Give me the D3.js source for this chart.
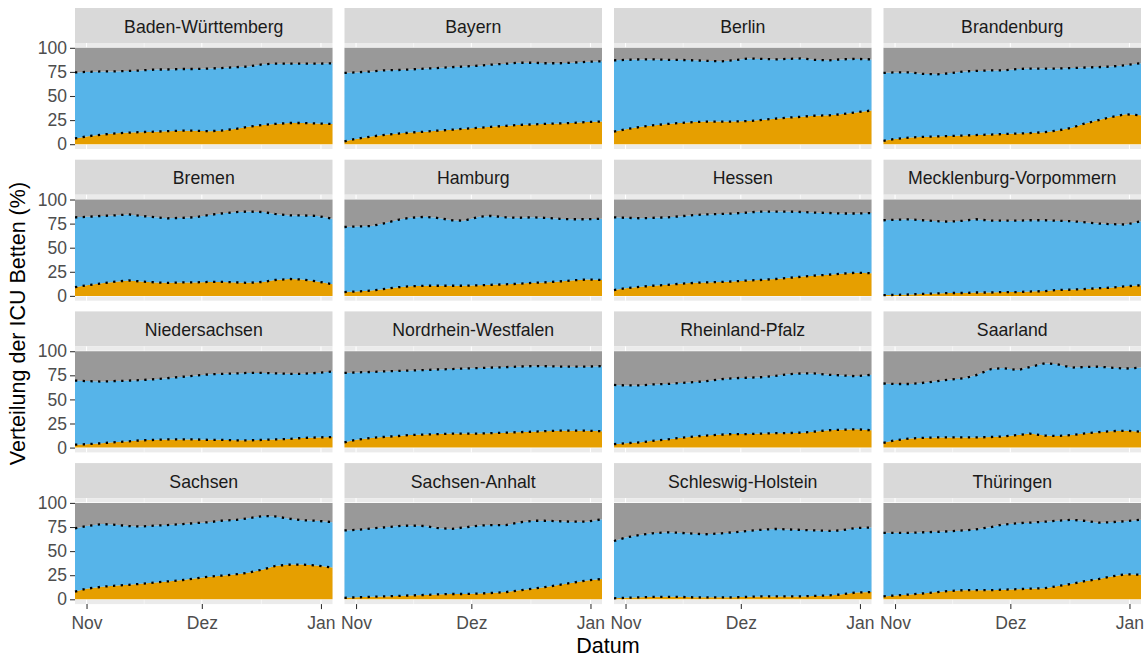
<!DOCTYPE html>
<html>
<head>
<meta charset="utf-8">
<script src="https://cdn.jsdelivr.net/npm/d3@7"></script>
<style>
  body { margin: 0; background: #ffffff; }
  svg { display: block; }
  text { font-family: "Liberation Sans", Arial, Helvetica, sans-serif; }
</style>
</head>
<body>
<svg id="chart" width="1145" height="657"></svg>
<script>
// Bundesländer, one facet each
const states = [
  "Baden-Württemberg", "Bayern", "Berlin", "Brandenburg",
  "Bremen", "Hamburg", "Hessen", "Mecklenburg-Vorpommern",
  "Niedersachsen", "Nordrhein-Westfalen", "Rheinland-Pfalz", "Saarland",
  "Sachsen", "Sachsen-Anhalt", "Schleswig-Holstein", "Thüringen"
];

// Reporting dates
const dates = [
  "2020-10-29", "2020-11-01", "2020-11-05", "2020-11-08", "2020-11-12",
  "2020-11-15", "2020-11-19", "2020-11-22", "2020-11-26", "2020-11-29",
  "2020-12-03", "2020-12-06", "2020-12-10", "2020-12-13", "2020-12-17",
  "2020-12-20", "2020-12-24", "2020-12-27", "2020-12-31", "2021-01-04"
];

// Share of ICU beds with COVID-19 patients (%), per state
const covidShare = [
  [6, 8, 10, 11, 12, 12.5, 13, 13.5, 14, 14, 13.5, 14, 16, 18, 20, 21, 22, 22, 21.5, 21],
  [3, 5.5, 8, 9.5, 11, 12, 13, 14, 15, 16, 17, 18, 19, 20, 20.5, 21, 21.5, 22, 23, 23.5],
  [13, 15.5, 18, 19.5, 21, 22, 23, 23.5, 23.5, 23.5, 24, 25, 26.5, 27.5, 28.5, 29.5, 30, 31, 33, 35],
  [3.5, 5.5, 7, 7.5, 8, 8.5, 9, 9.5, 10, 10.5, 11, 11.5, 12.5, 14, 17, 21, 25, 28, 31, 30],
  [9, 11, 13, 14.5, 16, 15, 14, 13.5, 14, 14, 14.5, 14.5, 14, 13.5, 14.5, 16.5, 17.5, 17, 15, 12],
  [4, 4.5, 5.5, 7, 9, 10, 10.5, 10.5, 10.5, 10.5, 11, 11.5, 12, 12.5, 13.5, 14, 15, 16, 17, 16.5],
  [6, 8, 9.5, 10.5, 11.5, 12.5, 13.5, 14, 14.5, 15, 16, 16.5, 17.5, 18.5, 20, 21, 22, 23, 24, 23.5],
  [0.8, 1, 1.5, 2, 2.5, 3, 3, 3.5, 3.5, 4, 4, 4.5, 5, 6, 6.5, 7, 8, 8.5, 10, 11],
  [3, 3.5, 4.5, 5.5, 6.5, 7.5, 8, 8.5, 8.5, 8.5, 8, 8, 7.5, 7.5, 8, 8.5, 9, 10, 10.5, 11],
  [5.5, 8, 10, 11, 12, 13, 13.5, 14, 14.5, 14.5, 14.5, 15, 15.5, 16, 16.5, 17, 17.5, 17.5, 17.5, 17],
  [3.5, 4.5, 5.5, 7, 8.5, 10, 11.5, 12.5, 13.5, 14, 14, 14.5, 15, 15, 15.5, 16.5, 18, 18.5, 19, 18],
  [5, 7.5, 9.5, 10, 10.5, 10.5, 10.5, 10.5, 11, 11.5, 13, 14.5, 12.5, 12, 13, 14.5, 16, 17, 17.5, 16.5],
  [8, 11, 13, 14, 15, 16, 17.5, 18.5, 20, 21.5, 23.5, 24.5, 26, 27.5, 31, 34.5, 36, 36, 35, 33],
  [1.5, 2, 2.5, 3, 3.5, 4, 4.5, 5, 5.5, 5.5, 6, 6.5, 7.5, 9, 11, 12.5, 15, 17, 19.5, 21],
  [1, 1.5, 2, 2.5, 2.5, 2.5, 2, 2, 2, 2, 2.5, 3, 3, 3, 3, 3.5, 4, 5, 7, 7.5],
  [3, 4, 5, 6, 7.5, 8.5, 9.5, 9.5, 9.5, 10, 10.5, 11, 11.5, 13.5, 16, 18.5, 21, 23.5, 26, 25.5]
];

// Share of ICU beds occupied in total (%), per state
const occupiedShare = [
  [74.5, 75, 75.5, 75.5, 76, 76.5, 77.5, 77.5, 78, 78, 78.5, 79, 80, 80.5, 83, 83.5, 83.5, 83.5, 83.5, 84],
  [74, 74.5, 75.5, 76.5, 77, 77.5, 78.5, 79, 80, 80.5, 81.5, 82.5, 83.5, 84.5, 84.5, 84, 84, 84.5, 85.5, 86],
  [87, 87.5, 88, 88, 87.5, 87.5, 87, 86.5, 86, 87, 89, 88.5, 88, 88.5, 89, 87.5, 87, 88, 88.5, 88],
  [74, 74.5, 74.5, 73, 72.5, 73.5, 75.5, 76, 76.5, 76.5, 78, 78.5, 78.5, 78.5, 79, 79.5, 80, 80.5, 82, 84],
  [81.5, 82, 83, 83.5, 84.5, 83, 81.5, 80.5, 81, 81.5, 84, 85.5, 87, 87.5, 87, 85, 83.5, 83.5, 83, 80],
  [71.5, 72, 72.5, 75, 79, 81, 82, 81, 78.5, 78, 82, 83, 81.5, 81, 81.5, 81, 80, 79.5, 79.5, 80],
  [81.5, 81, 80.5, 81, 81.5, 82.5, 84, 84.5, 85, 85.5, 86.5, 87.5, 87.5, 87.5, 87, 86.5, 86, 85.5, 85.5, 86],
  [78.5, 79, 79.5, 78.5, 77.5, 77, 78, 79.5, 78, 78, 78, 78.5, 78.5, 78, 77.5, 76.5, 75, 74.5, 74, 77.5],
  [69.5, 69, 68.5, 69, 69.5, 70, 71, 72, 73.5, 74.5, 76, 76.5, 77, 77.5, 77.5, 77, 76.5, 76.5, 77.5, 79],
  [77.5, 78, 78.5, 79, 79.5, 80, 80.5, 81, 81.5, 82, 82.5, 83, 83.5, 84, 84.5, 84.5, 84, 84, 84, 84.5],
  [65, 64.5, 64.5, 65.5, 66, 67, 68, 69, 71, 72, 72.5, 73, 74.5, 76, 77, 77, 75.5, 75, 74, 75.5],
  [66.5, 66, 66, 67, 69, 70.5, 72, 75, 81.5, 82.5, 80.5, 83.5, 87.5, 86.5, 83, 83.5, 84, 83, 82, 83],
  [73.5, 76, 78, 77.5, 76, 75.5, 76.5, 77, 78, 79, 80, 81.5, 82.5, 84, 86.5, 86, 83.5, 82, 81.5, 80],
  [71.5, 72, 73.5, 74.5, 76, 76.5, 76, 74, 73, 74.5, 76.5, 77, 77, 79.5, 81.5, 81.5, 81, 80.5, 80.5, 83],
  [60.5, 64, 67, 68.5, 69.5, 69, 68, 67.5, 68.5, 69.5, 71, 72, 73, 72.5, 72, 71.5, 71, 71.5, 74, 74.5],
  [69, 69, 69, 69.5, 70, 70.5, 71.5, 72.5, 75, 77.5, 79, 79.5, 80.5, 81.5, 82.5, 81.5, 79.5, 80, 81, 82.5]
];

// Axis ticks
const dateRange = ["2020-10-29", "2021-01-04"];
const xTickDates = ["2020-11-01", "2020-12-01", "2021-01-01"];
const xTickLabels = ["Nov", "Dez", "Jan"];
const xMinorDates = ["2020-11-16", "2020-12-16T12:00Z"];
const yTicks = [0, 25, 50, 75, 100];
const yMinorTicks = [12.5, 37.5, 62.5, 87.5];

// Stack layers, bottom to top
const layerKeys = ["covid", "sonstige", "frei"];
const layerColors = { covid: "#E69F00", sonstige: "#56B4E9", frei: "#999999" };

// Facet grid geometry
const nCols = 4;
const panelLeft0 = 75, panelW = 257.5, colStep = 269.5;
const stripTop0 = 8, stripH = 35, panelH = 106, rowStep = 151.7;
const nRows = Math.ceil(states.length / nCols);

const parse = s => new Date(s);
const svg = d3.select("#chart");

const x = d3.scaleUtc().domain(dateRange.map(parse)).range([0, panelW]);
const y = d3.scaleLinear().domain([-5, 105]).range([panelH, 0]);

const stack = d3.stack().keys(layerKeys);
const area = d3.area()
  .x(d => x(d.data.date))
  .y0(d => y(d[0]))
  .y1(d => y(d[1]));
const line = d3.line().x(d => x(d.date)).y(d => y(d.v));

states.forEach((state, i) => {
  const col = i % nCols, row = Math.floor(i / nCols);
  const g = svg.append("g")
    .attr("transform", `translate(${panelLeft0 + col * colStep},${stripTop0 + row * rowStep})`);

  // facet strip
  g.append("rect").attr("width", panelW).attr("height", stripH).attr("fill", "#D9D9D9");
  g.append("text")
    .attr("x", panelW / 2).attr("y", 24.8)
    .attr("text-anchor", "middle")
    .attr("font-size", 17.7).attr("fill", "#1A1A1A")
    .text(state);

  const p = g.append("g").attr("transform", `translate(0,${stripH})`);
  p.append("rect").attr("width", panelW).attr("height", panelH).attr("fill", "#EBEBEB");

  // grid
  p.selectAll(".vminor").data(xMinorDates).join("line")
    .attr("x1", d => x(parse(d))).attr("x2", d => x(parse(d)))
    .attr("y1", 0).attr("y2", panelH).attr("stroke", "#fff").attr("stroke-width", 0.55);
  p.selectAll(".vmajor").data(xTickDates).join("line")
    .attr("x1", d => x(parse(d))).attr("x2", d => x(parse(d)))
    .attr("y1", 0).attr("y2", panelH).attr("stroke", "#fff").attr("stroke-width", 1.1);
  p.selectAll(".hminor").data(yMinorTicks).join("line")
    .attr("x1", 0).attr("x2", panelW).attr("y1", d => y(d)).attr("y2", d => y(d))
    .attr("stroke", "#fff").attr("stroke-width", 0.55);
  p.selectAll(".hmajor").data(yTicks).join("line")
    .attr("x1", 0).attr("x2", panelW).attr("y1", d => y(d)).attr("y2", d => y(d))
    .attr("stroke", "#fff").attr("stroke-width", 1.1);

  // stacked shares
  const rows = dates.map((d, j) => ({
    date: parse(d),
    covid: covidShare[i][j],
    sonstige: occupiedShare[i][j] - covidShare[i][j],
    frei: 100 - occupiedShare[i][j]
  }));
  p.selectAll(".layer").data(stack(rows)).join("path")
    .attr("d", area)
    .attr("fill", s => layerColors[s.key]);

  // dotted boundaries
  [covidShare[i], occupiedShare[i]].forEach(vals => {
    p.append("path")
      .datum(dates.map((d, j) => ({ date: parse(d), v: vals[j] })))
      .attr("d", line)
      .attr("fill", "none")
      .attr("stroke", "#000")
      .attr("stroke-width", 2.3)
      .attr("stroke-dasharray", "2.3,5.4");
  });

  // axes
  if (col === 0) {
    const ay = p.append("g").call(d3.axisLeft(y).tickValues(yTicks).tickSize(5).tickPadding(3));
    ay.select(".domain").remove();
    ay.selectAll("line").attr("stroke", "#333333").attr("stroke-width", 1.07);
    ay.selectAll("text").attr("font-size", 17.5).attr("fill", "#4D4D4D")
      .attr("font-family", '"Liberation Sans", Arial, sans-serif');
  }
  if (row === nRows - 1) {
    const ax = p.append("g").attr("transform", `translate(0,${panelH})`)
      .call(d3.axisBottom(x).tickValues(xTickDates.map(parse))
        .tickFormat((d, k) => xTickLabels[k]).tickSize(5).tickPadding(7));
    ax.select(".domain").remove();
    ax.selectAll("line").attr("stroke", "#333333").attr("stroke-width", 1.07);
    ax.selectAll("text").attr("font-size", 17.5).attr("fill", "#4D4D4D")
      .attr("font-family", '"Liberation Sans", Arial, sans-serif');
  }
});

// axis titles
const plotLeft = panelLeft0, plotRight = panelLeft0 + (nCols - 1) * colStep + panelW;
svg.append("text")
  .attr("x", (plotLeft + plotRight) / 2).attr("y", 653)
  .attr("text-anchor", "middle").attr("font-size", 21.5).attr("fill", "#000")
  .text("Datum");
const plotTop = stripTop0 + stripH, plotBottom = stripTop0 + (nRows - 1) * rowStep + stripH + panelH;
svg.append("text")
  .attr("transform", `translate(25,${(plotTop + plotBottom) / 2}) rotate(-90)`)
  .attr("text-anchor", "middle").attr("font-size", 21.5).attr("fill", "#000")
  .text("Verteilung der ICU Betten (%)");
</script>
</body>
</html>
